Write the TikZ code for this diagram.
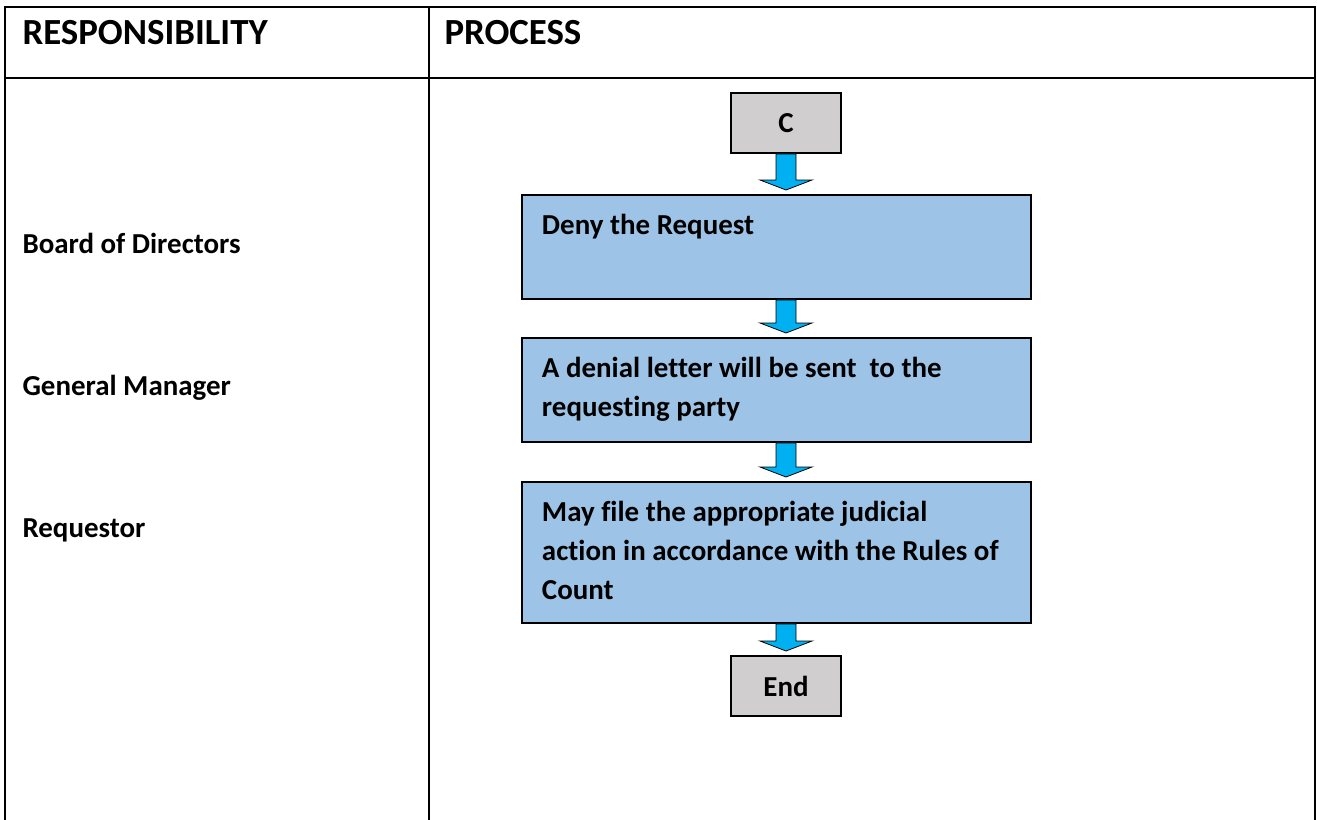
\documentclass[tikz,border=0pt]{standalone}
\usepackage{fontspec}
\setmainfont{Carlito}[Ligatures=NoCommon]
\usetikzlibrary{calc}

\definecolor{boxblue}{RGB}{157,195,230}
\definecolor{boxgray}{RGB}{208,206,206}
\definecolor{arrowblue}{RGB}{0,176,240}

\tikzset{
  tableline/.style={line width=0.95pt, line join=miter},
  headlabel/.style={anchor=base west, inner sep=0pt, font=\bfseries\fontsize{14}{17}\selectfont},
  rolelabel/.style={anchor=base west, inner sep=0pt, font=\bfseries\fontsize{11}{14.8}\selectfont},
  procbox/.style={draw, line width=0.75pt, fill=boxblue, anchor=north west, align=flush left,
    font=\bfseries\fontsize{11}{14.8}\selectfont, text width=178.2pt,
    inner xsep=7.6pt, inner ysep=0pt, text height=15.2pt},
  termbox/.style={draw, line width=0.75pt, fill=boxgray, minimum width=41.8pt,
    minimum height=22.8pt, inner sep=0pt, font=\bfseries\fontsize{11}{14.8}\selectfont},
  blockarrow/.style={fill=arrowblue, draw=black, line width=0.3pt, line join=miter,
    to path={let \p1=(\tikztostart.south), \p2=(\tikztotarget.north), \p3=(axis) in
      (\x3-3.8pt,\y1) -- (\x3-3.8pt,\y2+5.32pt) -- (\x3-9.88pt,\y2+5.32pt) --
      (\x3,\y2+1.52pt) -- (\x3+9.88pt,\y2+5.32pt) -- (\x3+3.8pt,\y2+5.32pt) --
      (\x3+3.8pt,\y1) -- cycle}}
}

\begin{document}
\begin{tikzpicture}[x=0.38pt, y=-0.38pt]

    % Page frame, in pixels of the reference (y grows downward)
    \useasboundingbox (0,0) rectangle (1317,820);

    % Table rules (the bottom edge lies below the page)
    \draw[tableline] (5,820) -- (5,7) -- (1315,7) -- (1315,820);
    \draw[tableline] (5,78) -- (1315,78);
    \draw[tableline] (429,7) -- (429,820);

    % Column headings
    \node[headlabel] (resp) at (22,44) {RESPONSIBILITY};
    \node[headlabel] (proc) at (444,44) {PROCESS};

    % Responsible parties
    \node[rolelabel] (board) at (22,253) {Board of Directors};
    \node[rolelabel] (gm) at (22,395) {General Manager};
    \node[rolelabel] (req) at (22,537) {Requestor};

    % Vertical axis of the arrows
    \coordinate (axis) at (786,0);

    % Process steps
    \node[termbox] (c) at (786,123) {C};
    \node[procbox, text depth=24.32pt] (deny) at (521,194) {Deny the Request};
    \node[procbox, text depth=24.32pt] (letter) at (521,337)
      {\mbox{A denial letter will be sent~ to the}\\requesting party};
    \node[procbox, text depth=38.38pt] (file) at (521,481)
      {\mbox{May file the appropriate judicial}\\\mbox{action in accordance with the Rules of}\\Count};
    \node[termbox] (end) at (786,686) {End};

    % Block arrows between the steps
    \draw[blockarrow] (c) to (deny);
    \draw[blockarrow] (deny) to (letter);
    \draw[blockarrow] (letter) to (file);
    \draw[blockarrow] (file) to (end);

\end{tikzpicture}
\end{document}
